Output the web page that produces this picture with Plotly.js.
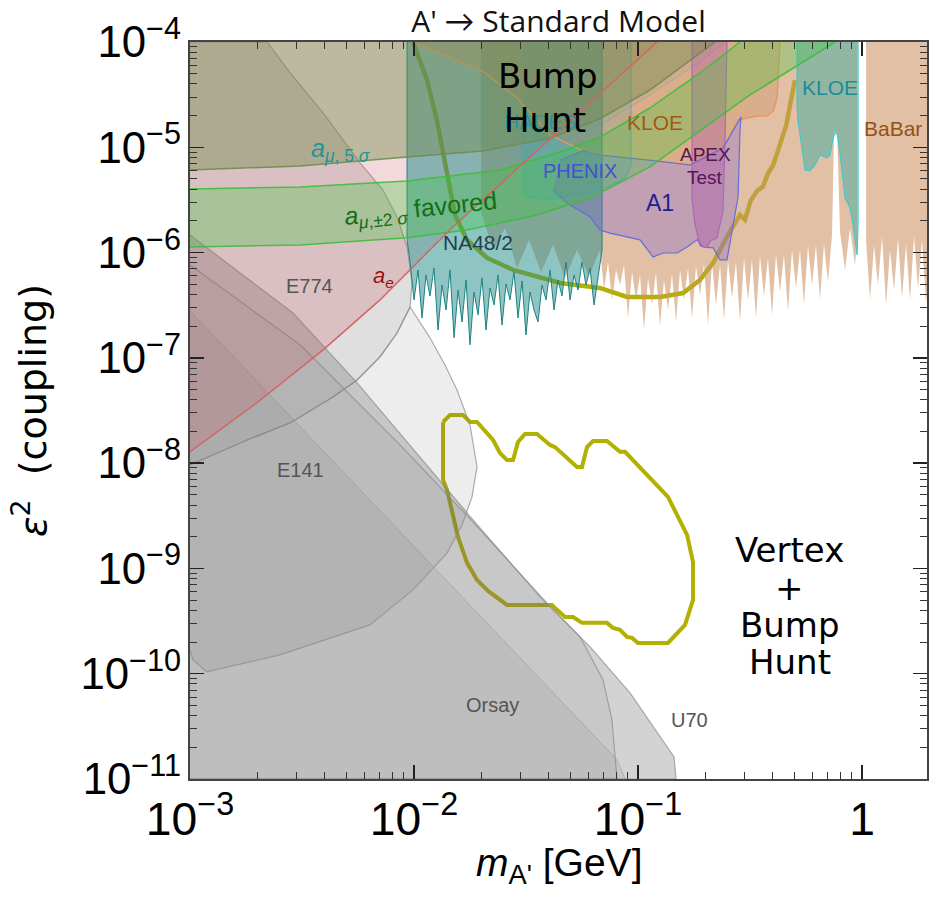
<!DOCTYPE html>
<html>
<head>
<meta charset="utf-8">
<script src="https://cdn.plot.ly/plotly-3.0.1.min.js"></script>
<style>
  html, body { margin: 0; padding: 0; background: #fff; }
  #chart { width: 933px; height: 897px; }
</style>
</head>
<body>
<div id="chart"></div>
<script>
// ---- Axis limits ----
const MASS_MIN = 1e-3;
const COUPLING_MAX = 1e-4;

// ---- HPS reach: bump-hunt line (mass in GeV, epsilon^2) ----
const bumpMass = [9.9e-3,1.143e-2,1.267e-2,1.403e-2,1.524e-2,1.725e-2,2.12e-2,2.77e-2,4.49e-2,6.76e-2,8.93e-2,0.1253,0.1589,0.189,0.2163,0.2495,0.285,0.300,0.318,0.340,0.360,0.380,0.401,0.423,0.444,0.460,0.477,0.502];
const bumpCoupling = [1e-4,4.36e-5,1.78e-5,5.96e-6,2.28e-6,1.32e-6,8.89e-7,6.84e-7,5.14e-7,4.61e-7,3.79e-7,3.79e-7,4.13e-7,5.50e-7,7.96e-7,1.41e-6,2.28e-6,2.05e-6,3.10e-6,3.85e-6,4.20e-6,5.60e-6,6.79e-6,9.50e-6,1.31e-5,1.65e-5,2.52e-5,4.36e-5];

// ---- HPS reach: vertex + bump-hunt contour ----
const vertexMass = [1.348e-2,1.448e-2,1.655e-2,1.778e-2,1.911e-2,2.253e-2,2.42e-2,2.601e-2,2.767e-2,2.913e-2,3.13e-2,3.541e-2,4.046e-2,4.261e-2,5.342e-2,5.623e-2,5.92e-2,6.297e-2,7.27e-2,8.31e-2,8.75e-2,0.1361,0.1655,0.176,0.176,0.1621,0.1361,0.1,9.40e-2,8.93e-2,8.31e-2,7.733e-2,7.27e-2,5.623e-2,5.126e-2,4.723e-2,4.349e-2,4.13e-2,2.601e-2,2.14e-2,1.911e-2,1.725e-2,1.572e-2,1.404e-2,1.348e-2,1.348e-2];
const vertexCoupling = [2.46e-8,2.87e-8,2.87e-8,2.46e-8,2.46e-8,1.66e-8,1.25e-8,1.07e-8,1.07e-8,1.59e-8,1.89e-8,1.89e-8,1.49e-8,1.42e-8,9.2e-9,9.2e-9,1.42e-8,1.62e-8,1.62e-8,1.28e-8,1.28e-8,4.78e-9,2.08e-9,1.15e-9,5.02e-10,2.91e-10,1.96e-10,1.96e-10,2.19e-10,2.24e-10,2.61e-10,2.72e-10,3.04e-10,3.04e-10,3.46e-10,3.46e-10,4.04e-10,4.50e-10,4.50e-10,6.11e-10,7.78e-10,1.13e-9,1.99e-9,5.57e-9,6.93e-9,2.46e-8];

// ---- Beam-dump exclusions ----
const e774Mass = [1e-3,2.21e-3,2.80e-3,3.93e-3,5.74e-3,7.27e-3,8.40e-3,9.31e-3,9.80e-3,9.60e-3,8.40e-3,7.05e-3,5.57e-3,4.35e-3,2.80e-3,1.80e-3,1.27e-3,1e-3];
const e774Coupling = [1e-4,1e-4,5.08e-5,2.12e-5,7.10e-6,3.93e-6,2.18e-6,1.13e-6,5.14e-7,3.04e-7,1.72e-7,1.02e-7,6.17e-8,4.25e-8,2.41e-8,1.66e-8,1.20e-8,9.61e-9];

const e141Mass = [1e-3,1.27e-3,1.80e-3,2.80e-3,4.35e-3,5.57e-3,7.05e-3,8.40e-3,9.60e-3,1.179e-2,1.375e-2,1.556e-2,1.778e-2,1.911e-2,1.815e-2,1.638e-2,1.404e-2,9.9e-3,6.36e-3,2.52e-3,1.19e-3,1.03e-3,1e-3];
const e141Coupling = [9.61e-9,1.20e-8,1.66e-8,2.41e-8,4.25e-8,6.17e-8,1.02e-7,1.72e-7,3.04e-7,1.55e-7,8.56e-8,4.96e-8,2.31e-8,9.2e-9,4.78e-9,2.59e-9,1.40e-9,6.25e-10,2.91e-10,1.51e-10,1.04e-10,1.35e-10,1.68e-10];

const u70Mass = [1e-3,2.88e-3,5.57e-3,1.834e-2,3.65e-2,6.11e-2,9.21e-2,0.1216,0.1448,0.1478,1e-3];
const u70Coupling = [1.47e-6,2.67e-7,5.78e-8,2.89e-9,5.36e-10,1.80e-10,6.57e-11,2.74e-11,1.62e-11,1e-11,1e-11];

const orsayMass = [1e-3,3.10e-3,8.66e-3,1.834e-2,3.92e-2,5.51e-2,6.98e-2,7.65e-2,8.06e-2,1e-3];
const orsayCoupling = [7.62e-7,1.33e-7,1.49e-8,2.76e-9,4.70e-10,2.24e-10,8.73e-11,3.64e-11,1e-11,1e-11];

const dumpInnerMass = [1e-3,1.179e-2,2.97e-2,8.06e-2,8.75e-2,1e-3];
const dumpInnerCoupling = [2.79e-7,1.13e-9,1.41e-10,1.52e-11,1e-11,1e-11];

// ---- Electron g-2 boundary ----
const aeMass = [1e-3,2.01e-3,3.93e-3,7.05e-3,1.49e-2,4.35e-2,0.1216];
const aeCoupling = [1.28e-8,3.81e-8,1.19e-7,3.55e-7,1.75e-6,1.37e-5,1e-4];

// ---- Muon g-2: 5 sigma line and +-2 sigma favoured band ----
const amu5Mass = [1e-3,3.10e-3,9.31e-3,2.03e-2,4.05e-2,6.767e-2,0.113,0.171,0.221];
const amu5Coupling = [6.09e-6,6.64e-6,8.09e-6,9.23e-6,1.22e-5,1.86e-5,3.50e-5,6.75e-5,1e-4];
const amuUpperMass = [1e-3,3.10e-3,9.31e-3,2.42e-2,4.49e-2,6.767e-2,0.113,0.189,0.285];
const amuUpperCoupling = [4.02e-6,4.20e-6,4.79e-6,6.08e-6,9.02e-6,1.25e-5,2.36e-5,5.08e-5,1e-4];
const amuLowerMass = [1e-3,3.10e-3,9.31e-3,1.725e-2,3.40e-2,6.11e-2,0.113,0.189,0.316,0.528,0.757];
const amuLowerCoupling = [1.13e-6,1.18e-6,1.38e-6,1.64e-6,2.23e-6,3.30e-6,6.50e-6,1.43e-5,3.14e-5,6.18e-5,1e-4];

// ---- Collider / fixed-target bump hunts ----
const na48Mass = [9.31e-3,9.31e-3,9.60e-3,1.000e-2,1.042e-2,1.086e-2,1.131e-2,1.179e-2,1.228e-2,1.280e-2,1.334e-2,1.390e-2,1.448e-2,1.509e-2,1.572e-2,1.638e-2,1.707e-2,1.778e-2,1.853e-2,1.931e-2,2.012e-2,2.096e-2,2.184e-2,2.276e-2,2.371e-2,2.471e-2,2.575e-2,2.683e-2,2.795e-2,2.913e-2,3.035e-2,3.162e-2,3.295e-2,3.433e-2,3.577e-2,3.728e-2,3.884e-2,4.047e-2,4.217e-2,4.394e-2,4.578e-2,4.771e-2,4.971e-2,5.179e-2,5.397e-2,5.623e-2,5.859e-2,6.105e-2,6.362e-2,6.629e-2,6.907e-2,6.907e-2];
const na48Coupling = [1e-4,1.32e-6,8.14e-7,3.55e-7,6.84e-7,2.39e-7,6.13e-7,3.87e-7,7.14e-7,1.84e-7,4.92e-7,2.85e-7,6.84e-7,1.55e-7,4.41e-7,2.19e-7,5.49e-7,1.33e-7,4.22e-7,2.56e-7,5.74e-7,1.84e-7,4.61e-7,3.18e-7,6.13e-7,2.05e-7,5.03e-7,3.55e-7,6.54e-7,2.39e-7,5.37e-7,1.65e-7,4.22e-7,2.85e-7,2.19e-7,4.92e-7,3.55e-7,6.84e-7,2.85e-7,5.49e-7,3.87e-7,8.14e-7,3.55e-7,6.13e-7,4.41e-7,8.14e-7,4.92e-7,7.14e-7,3.18e-7,6.13e-7,1.06e-6,1e-4];

const babarMass = [1.991e-2,1.991e-2,2.253e-2,2.549e-2,2.883e-2,3.262e-2,3.690e-2,4.174e-2,4.722e-2,5.342e-2,6.043e-2,
  0.06767,0.07051,0.07347,0.07655,0.07976,0.08311,0.08660,0.09023,0.09402,0.09796,0.10207,0.10635,0.11082,0.11547,0.12031,0.12536,0.13062,0.13610,0.14181,0.14776,0.15396,0.16042,0.16715,0.17417,0.18148,0.18909,0.19703,0.20530,0.21391,0.22289,0.23224,0.24199,0.25214,0.26272,0.27374,0.28523,0.29720,0.30967,0.32266,0.33620,0.35031,0.36501,0.38033,0.39629,0.41292,0.43024,0.44830,0.46711,0.48671,0.50713,0.52841,0.55059,0.57369,0.59776,0.62285,0.64898,0.67622,0.70459,
  0.7346,0.7499,0.7734,0.7976,0.8397,0.8841,0.9306,0.9499,0.9499];
const babarCoupling = [1e-4,2.43e-6,1.06e-6,1.71e-6,7.14e-7,1.32e-6,6.54e-7,1.18e-6,5.74e-7,1.06e-6,6.00e-7,
  1.06e-6,4.41e-7,8.14e-7,3.55e-7,6.84e-7,4.92e-7,7.62e-7,2.39e-7,6.54e-7,3.55e-7,6.13e-7,1.84e-7,5.74e-7,3.18e-7,6.54e-7,2.01e-7,5.49e-7,2.85e-7,6.26e-7,2.19e-7,6.84e-7,3.55e-7,7.14e-7,2.39e-7,7.46e-7,3.96e-7,7.79e-7,2.05e-7,8.14e-7,3.18e-7,7.62e-7,2.29e-7,8.51e-7,3.71e-7,8.14e-7,2.19e-7,8.89e-7,3.55e-7,8.51e-7,2.39e-7,9.28e-7,3.87e-7,8.89e-7,2.56e-7,9.70e-7,4.22e-7,9.49e-7,2.73e-7,1.06e-6,4.61e-7,1.06e-6,3.18e-7,1.16e-6,4.92e-7,1.18e-6,3.55e-7,1.21e-6,5.26e-7,
  1.47e-6,1.43e-5,1.43e-5,1.57e-6,6.84e-7,1.71e-6,7.62e-7,1.32e-6,1e-4];
const babarHighMass = [1.042,1.042,1.0857,1.1313,1.1787,1.2282,1.2797,1.3334,1.3894,1.4477,1.5084,1.5717,1.6377,1.7064,1.7780,1.8526,1.9303,2.119,2.119];
const babarHighCoupling = [1e-4,1.32e-6,3.55e-7,1.18e-6,4.92e-7,1.44e-6,3.18e-7,1.06e-6,4.41e-7,1.38e-6,3.71e-7,1.21e-6,3.55e-7,1.44e-6,4.61e-7,1.32e-6,3.40e-7,1.32e-6,1e-4];

const hadesMass = [1.991e-2,1.991e-2,2.42e-2,3.066e-2,3.843e-2,4.722e-2,6.767e-2,0.113,0.189,0.2446];
const hadesCoupling = [1e-4,1.05e-5,9.43e-6,7.91e-6,9.85e-6,1.17e-5,1.63e-5,3.14e-5,6.46e-5,1e-4];

const phenixMass = [3.066e-2,3.066e-2,3.65e-2,4.49e-2,6.11e-2,7.499e-2,8.75e-2,9.31e-2,9.31e-2];
const phenixCoupling = [1e-4,3.52e-6,3.16e-6,3.30e-6,3.76e-6,4.29e-6,5.11e-6,6.79e-6,1e-4];

const kloeLowMass = [9.9e-3,2.03e-2,2.883e-2,4.05e-2,5.682e-2,6.767e-2,0.1216,0.1707,0.2396,0.2796,0.340,0.3766,0.401,0.4174,0.4305];
const kloeLowCoupling = [1e-4,5.30e-5,2.94e-5,1.31e-5,9.23e-6,8.45e-6,7.41e-6,6.79e-6,9.85e-6,1.82e-5,1.98e-5,1.98e-5,2.21e-5,2.94e-5,1e-4];

const a1Mass = [4.174e-2,4.819e-2,6.11e-2,6.767e-2,7.499e-2,8.93e-2,0.1021,0.1167,0.1293,0.1493,0.1655,0.1834,0.1951,0.2163,0.2324,0.2495,0.2602,0.2796,0.2853,0.2883,0.2396,0.1707,0.1216,6.767e-2,5.682e-2,4.49e-2];
const a1Coupling = [3.93e-6,2.96e-6,2.18e-6,1.64e-6,1.53e-6,1.41e-6,1.32e-6,9.08e-7,9.91e-7,9.91e-7,1.13e-6,1.32e-6,1.13e-6,1.11e-6,8.51e-7,8.51e-7,1.41e-6,3.37e-6,1.46e-5,1.94e-5,9.85e-6,6.79e-6,7.41e-6,8.45e-6,9.23e-6,7.58e-6];

const apexMass = [0.1742,0.1742,0.1797,0.189,0.2032,0.2096,0.2253,0.2396,0.2446,0.2495];
const apexCoupling = [1e-4,3.16e-6,1.83e-6,1.16e-6,1.11e-6,1.29e-6,1.38e-6,2.48e-6,1.22e-5,1e-4];

const kloeHighMass = [0.5125,0.5125,0.5179,0.5397,0.5566,0.5860,0.6169,0.6494,0.6979,0.7197,0.7423,0.7655,0.7814,0.8141,0.8397,0.8841,0.9118,0.9499,0.9598,0.9598];
const kloeHighCoupling = [1e-4,2.52e-5,1.78e-5,9.85e-6,6.08e-6,5.96e-6,6.79e-6,8.45e-6,7.91e-6,8.45e-6,1.22e-5,1.43e-5,1.22e-5,5.96e-6,3.30e-6,2.65e-6,1.83e-6,9.49e-7,1.83e-6,1e-4];

// ---- Trace builders ----
const traces = [];
function region(xs, ys, fill, line, width) {
  traces.push({
    x: xs, y: ys, type: 'scatter', mode: 'lines', fill: 'toself',
    fillcolor: fill, line: { color: line || 'rgba(0,0,0,0)', width: width || 0 },
    hoverinfo: 'skip', showlegend: false
  });
}
function curve(xs, ys, color, width) {
  traces.push({
    x: xs, y: ys, type: 'scatter', mode: 'lines',
    line: { color: color, width: width },
    hoverinfo: 'skip', showlegend: false
  });
}

// HPS reach curves sit underneath the translucent exclusions
const HPS = 'rgb(178,176,0)';
curve(vertexMass, vertexCoupling, HPS, 4);
curve(bumpMass, bumpCoupling, HPS, 4.5);

// Beam dumps (gray)
const GRAY_LINE = 'rgba(140,140,140,0.7)';
region(u70Mass, u70Coupling, 'rgba(110,110,110,0.30)', GRAY_LINE, 1.2);
region(orsayMass, orsayCoupling, 'rgba(110,110,110,0.10)', GRAY_LINE, 1.2);
region(dumpInnerMass, dumpInnerCoupling, 'rgba(110,110,110,0.10)', 'rgba(150,150,150,0.55)', 1);
region(e141Mass, e141Coupling, 'rgba(110,110,110,0.12)', GRAY_LINE, 1.2);
region(e774Mass, e774Coupling, 'rgba(110,110,110,0.22)', GRAY_LINE, 1.2);

// a_e excluded (pink), filled toward the upper-left corner
region(aeMass.concat([MASS_MIN]), aeCoupling.concat([COUPLING_MAX]), 'rgba(200,80,90,0.22)');

// Bump-hunt experiments
region(babarMass, babarCoupling, 'rgba(205,150,105,0.6)');
region(babarHighMass, babarHighCoupling, 'rgba(205,150,105,0.6)');
region(na48Mass, na48Coupling, 'rgba(30,140,135,0.5)', 'rgb(30,130,130)', 1);
region(hadesMass, hadesCoupling, 'rgba(60,170,190,0.08)', 'rgba(60,180,200,0.4)', 1);
region(phenixMass, phenixCoupling, 'rgba(40,170,185,0.22)', 'rgba(60,170,200,0.8)', 1);
region(kloeLowMass, kloeLowCoupling, 'rgba(200,120,60,0.25)', 'rgb(232,150,105)', 1.5);
region(a1Mass, a1Coupling, 'rgba(125,95,205,0.33)', 'rgb(100,110,220)', 1.2);
region(apexMass, apexCoupling, 'rgba(170,80,170,0.35)', 'rgba(170,100,180,0.9)', 1.2);
region(kloeHighMass, kloeHighCoupling, 'rgba(50,170,165,0.45)', 'rgb(70,200,200)', 1.2);

// Muon g-2: 5 sigma exclusion and +-2 sigma favoured band
region(amu5Mass.concat([MASS_MIN]), amu5Coupling.concat([COUPLING_MAX]), 'rgba(115,140,75,0.42)');
region(amuUpperMass.concat(amuLowerMass.slice().reverse()),
       amuUpperCoupling.concat(amuLowerCoupling.slice().reverse()), 'rgba(60,200,60,0.30)');
curve(amu5Mass, amu5Coupling, 'rgba(110,140,80,0.9)', 1.5);
curve(amuUpperMass, amuUpperCoupling, 'rgba(60,190,60,0.9)', 1.5);
curve(amuLowerMass, amuLowerCoupling, 'rgba(60,190,60,0.9)', 1.5);

// a_e boundary line
curve(aeMass, aeCoupling, 'rgb(212,100,100)', 1.5);

// ---- Labels (paper coordinates) ----
const LABEL_FONT = 'Liberation Sans, Arial, sans-serif';
const HAND = 'DejaVu Sans, sans-serif';
function label(text, x, y, size, color, extra, family) {
  return Object.assign({
    text: text, x: x, y: y, xref: 'paper', yref: 'paper',
    xanchor: 'center', yanchor: 'middle', showarrow: false,
    font: { family: family || LABEL_FONT, size: size, color: color }
  }, extra || {});
}
const annotations = [
  label('HADES', 0.4749, 0.8915, 21, 'rgb(40,150,165)'),
  label('Bump', 0.4857, 0.9539, 34, '#000', null, HAND),
  label('Hunt', 0.4817, 0.8942, 34, '#000', null, HAND),
  label('Vertex', 0.8141, 0.3107, 34, '#000', null, HAND),
  label('+', 0.8141, 0.2592, 34, '#000', null, HAND),
  label('Bump', 0.8141, 0.2090, 34, '#000', null, HAND),
  label('Hunt', 0.8141, 0.1588, 34, '#000', null, HAND),
  label('E774', 0.1628, 0.6689, 20, '#555'),
  label('E141', 0.1493, 0.4193, 20, '#555'),
  label('Orsay', 0.4098, 0.1004, 20, '#555'),
  label('U70', 0.6784, 0.0801, 20, '#555'),
  label('NA48/2', 0.3908, 0.7286, 21, 'rgb(30,65,75)'),
  label('PHENIX', 0.5292, 0.8250, 20, 'rgb(70,80,210)'),
  label('KLOE', 0.6309, 0.8901, 21, 'rgb(160,90,20)'),
  label('APEX', 0.6988, 0.8467, 19, 'rgb(85,20,85)'),
  label('Test', 0.6988, 0.8168, 19, 'rgb(85,20,85)'),
  label('A1', 0.6377, 0.7816, 23, 'rgb(30,30,150)'),
  label('KLOE', 0.8684, 0.9389, 21, 'rgb(30,140,150)'),
  label('BaBar', 0.9539, 0.8833, 21, 'rgb(150,80,20)'),
  label('<i>a</i><sub><i>μ</i>, 5 <i>σ</i></sub>', 0.205, 0.8535, 25, 'rgb(30,150,150)'),
  label('<i>a</i><sub><i>μ</i>,±2 <i>σ</i></sub> favored', 0.3121, 0.7720, 25, 'rgb(20,110,20)', { textangle: -6 }),
  label('<i>a</i><sub><i>e</i></sub>', 0.2619, 0.6811, 22, 'rgb(150,20,20)'),
  // horizontal axis title
  label("<i>m</i><sub>A'</sub> [GeV]", 0.5, -0.118, 39, '#000')
];

const axisCommon = {
  type: 'log', tickmode: 'linear', tick0: 0, dtick: 1, exponentformat: 'power',
  ticks: 'inside', ticklen: 14, tickwidth: 1.5, tickcolor: '#222',
  minor: { ticks: 'inside', ticklen: 7, tickwidth: 1, tickcolor: '#333', dtick: 'D1' },
  showline: true, linecolor: '#444', linewidth: 2, mirror: 'allticks',
  showgrid: false, zeroline: false, automargin: false
};

const layout = {
  width: 933, height: 897,
  margin: { l: 190, r: 6, t: 42, b: 118 },
  paper_bgcolor: '#fff', plot_bgcolor: '#fff',
  font: { family: LABEL_FONT, color: '#000' },
  title: {
    text: "A' → Standard Model",
    font: { family: 'Open Sans, Lato, sans-serif', size: 30, color: '#111' },
    x: 0.5, xref: 'paper', xanchor: 'center', y: 0.976, yref: 'container', yanchor: 'middle'
  },
  xaxis: Object.assign({}, axisCommon, {
    range: [-3, 0.29],
    tickfont: { family: LABEL_FONT, size: 37, color: '#000' }
  }),
  yaxis: Object.assign({}, axisCommon, {
    range: [-11, -4],
    tickfont: { family: LABEL_FONT, size: 35, color: '#000' },
    title: { text: '<i>ε</i><sup>2</sup>  (coupling)', font: { family: 'DejaVu Sans, sans-serif', size: 38, color: '#000' }, standoff: 22 }
  }),
  annotations: annotations,
  showlegend: false
};

Plotly.newPlot('chart', traces, layout, { staticPlot: true, displayModeBar: false });
</script>
</body>
</html>
